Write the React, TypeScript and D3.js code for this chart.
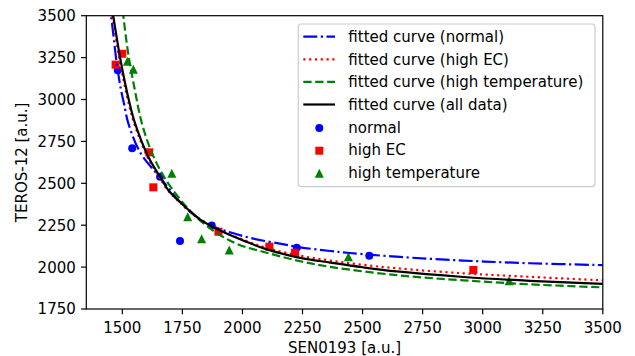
import React from 'react';
import * as d3 from 'd3';

// scatter points [SEN0193, TEROS-12]
const normalPts = [
  [1481, 3175], [1541, 2709], [1657, 2539], [1740, 2156], [1872, 2248], [2226, 2116], [2528, 2068],
];
const highEcPts = [
  [1472, 3208], [1500, 3273], [1612, 2685], [1629, 2476], [1900, 2211], [2112, 2122], [2219, 2086], [2961, 1983],
];
const highTempPts = [
  [1521, 3228], [1546, 3180], [1706, 2560], [1772, 2301], [1830, 2169], [1945, 2102], [2441, 2062], [3110, 1919],
];

// fitted curves
const fitNormal = [
  [1442, 3594], [1453, 3500], [1476, 3224], [1494, 3060], [1507, 2975], [1525, 2858], [1574, 2685],
  [1657, 2535], [1768, 2347], [1865, 2251], [1948, 2208], [2045, 2170], [2156, 2140], [2240, 2118],
  [2366, 2096], [2448, 2084], [2642, 2062], [2919, 2039], [3197, 2023], [3500, 2012],
];
const fitHighEc = [
  [1447, 3600], [1458, 3500], [1490, 3224], [1525, 2985], [1549, 2858], [1604, 2659], [1653, 2539],
  [1688, 2460], [1738, 2388], [1822, 2285], [1907, 2220], [2018, 2155], [2101, 2114], [2240, 2068],
  [2366, 2039], [2500, 2014], [2642, 1993], [2920, 1963], [3197, 1942], [3500, 1921],
];
const fitHighTemp = [
  [1497, 3600], [1504, 3500], [1527, 3250], [1553, 3050], [1581, 2860], [1629, 2662], [1698, 2485],
  [1823, 2279], [1962, 2148], [2101, 2086], [2240, 2035], [2366, 2001], [2642, 1952], [2920, 1921],
  [3197, 1897], [3500, 1879],
];
const fitAll = [
  [1451, 3600], [1462, 3500], [1494, 3224], [1529, 2985], [1553, 2858], [1608, 2659], [1657, 2539],
  [1691, 2460], [1740, 2388], [1823, 2285], [1907, 2218], [2018, 2150], [2101, 2106], [2240, 2055],
  [2366, 2027], [2500, 1999], [2642, 1974], [2920, 1941], [3197, 1918], [3500, 1900],
];

const xTicks = [1500, 1750, 2000, 2250, 2500, 2750, 3000, 3250, 3500];
const yTicks = [1750, 2000, 2250, 2500, 2750, 3000, 3250, 3500];

const W = 635;
const H = 356;
const left = 86.3, right = 602.8, top = 15.7, bottom = 309;
const FONT = 'DejaVu Sans, sans-serif';

const lines = [
  { label: 'fitted curve (normal)', data: fitNormal, color: '#0000ff', dash: '14,3.5,2.2,3.5' },
  { label: 'fitted curve (high EC)', data: fitHighEc, color: '#ff0000', dash: '2.2,3.6' },
  { label: 'fitted curve (high temperature)', data: fitHighTemp, color: '#008000', dash: '8.3,3.6' },
  { label: 'fitted curve (all data)', data: fitAll, color: '#000000', dash: null },
];
const scatters = [
  { label: 'normal', data: normalPts, color: '#0000ff', shape: 'circle' },
  { label: 'high EC', data: highEcPts, color: '#ff0000', shape: 'square' },
  { label: 'high temperature', data: highTempPts, color: '#008000', shape: 'triangle' },
];

function Marker({ shape, cx, cy, color }: { shape: string; cx: number; cy: number; color: string }) {
  if (shape === 'circle') return <circle cx={cx} cy={cy} r={4} fill={color} />;
  if (shape === 'square') return <rect x={cx - 4} y={cy - 4} width={8} height={8} fill={color} />;
  return <path d={`M${cx},${cy - 4.5}L${cx + 4.5},${cy + 4.5}L${cx - 4.5},${cy + 4.5}Z`} fill={color} />;
}

export default function App() {
  const x = d3.scaleLinear().domain([1350, 3500]).range([left, right]);
  const y = d3.scaleLinear().domain([1750, 3500]).range([bottom, top]);
  const line = d3
    .line<number[]>()
    .x((d) => x(d[0]))
    .y((d) => y(d[1]))
    .curve(d3.curveCatmullRom.alpha(0.5));

  const legX = 298.3, legY = 24, legW = 296.7, legH = 162.7;
  const rowY = (i: number) => 36.7 + i * 22.6;

  return (
    <svg width={W} height={H} style={{ position: 'absolute', left: 0, top: 0 }} fontFamily={FONT}>
      <rect width={W} height={H} fill="#fff" />
      <defs>
        <clipPath id="plot">
          <rect x={left} y={top} width={right - left} height={bottom - top} />
        </clipPath>
      </defs>

      <g clipPath="url(#plot)">
        {scatters.map((s) =>
          s.data.map((d, i) => <Marker key={s.label + i} shape={s.shape} cx={x(d[0])} cy={y(d[1])} color={s.color} />)
        )}
        {lines.map((l) => (
          <path
            key={l.label}
            d={line(l.data) || ''}
            fill="none"
            stroke={l.color}
            strokeWidth={2.2}
            strokeDasharray={l.dash || undefined}
          />
        ))}
      </g>

      {/* frame */}
      <rect x={left} y={top} width={right - left} height={bottom - top} fill="none" stroke="#000" strokeWidth={1.2} />

      {/* x axis */}
      {xTicks.map((t) => (
        <g key={t}>
          <line x1={x(t)} x2={x(t)} y1={bottom} y2={bottom + 5.25} stroke="#000" strokeWidth={1.2} />
          <text x={x(t)} y={332.5} fontSize={15} textAnchor="middle" fill="#000">{t}</text>
        </g>
      ))}
      <text x={(left + right) / 2} y={353} fontSize={15} textAnchor="middle">SEN0193 [a.u.]</text>

      {/* y axis */}
      {yTicks.map((t) => (
        <g key={t}>
          <line x1={left - 5.25} x2={left} y1={y(t)} y2={y(t)} stroke="#000" strokeWidth={1.2} />
          <text x={75.8} y={y(t) + 5.4} fontSize={15} textAnchor="end" fill="#000">{t}</text>
        </g>
      ))}
      <text transform={`translate(26.5,${(top + bottom) / 2}) rotate(-90)`} fontSize={15} textAnchor="middle">
        TEROS-12 [a.u.]
      </text>

      {/* legend */}
      <rect x={legX} y={legY} width={legW} height={legH} rx={3} fill="#fff" fillOpacity={0.8} stroke="#cccccc" strokeWidth={1.2} />
      {lines.map((l, i) => (
        <g key={l.label}>
          <line
            x1={303.3}
            x2={335}
            y1={rowY(i)}
            y2={rowY(i)}
            stroke={l.color}
            strokeWidth={2.2}
            strokeDasharray={l.dash || undefined}
          />
          <text x={348.3} y={rowY(i) + 5.4} fontSize={15}>{l.label}</text>
        </g>
      ))}
      {scatters.map((s, j) => (
        <g key={s.label}>
          <Marker shape={s.shape} cx={319.3} cy={rowY(4 + j) + 1} color={s.color} />
          <text x={348.3} y={rowY(4 + j) + 5.4} fontSize={15}>{s.label}</text>
        </g>
      ))}
    </svg>
  );
}
